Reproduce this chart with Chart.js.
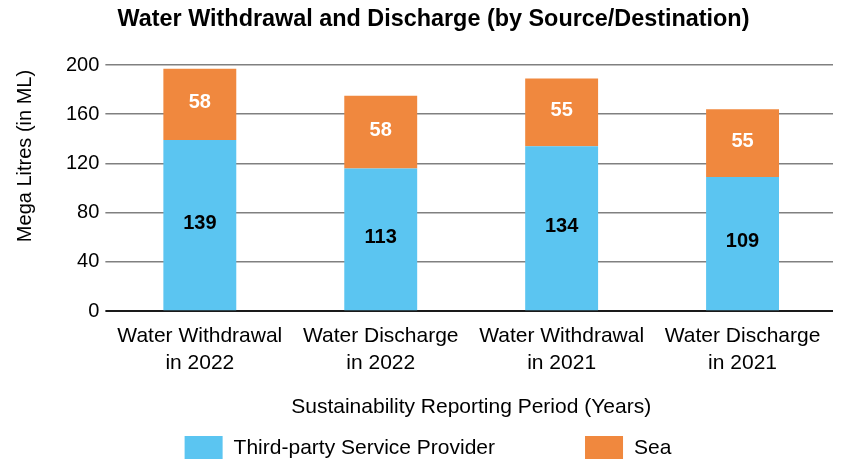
<!DOCTYPE html>
<html>
<head>
<meta charset="utf-8">
<script src="https://cdn.jsdelivr.net/npm/chart.js@4/dist/chart.umd.min.js"></script>
<style>
  html, body { margin: 0; padding: 0; background: #ffffff; }
  #wrap { width: 845px; height: 461px; position: relative; }
</style>
</head>
<body>
<div id="wrap"><canvas id="c" width="845" height="461"></canvas></div>
<script>
const categories = [
  ["Water Withdrawal", "in 2022"],
  ["Water Discharge", "in 2022"],
  ["Water Withdrawal", "in 2021"],
  ["Water Discharge", "in 2021"]
];
const thirdPartyValues = [139, 116, 134, 109];
const seaValues = [58, 59, 55, 55];
const thirdPartyLabels = ["139", "113", "134", "109"];
const seaLabels = ["58", "58", "55", "55"];
const yTicks = [0, 40, 80, 120, 160, 200];
const seriesNames = ["Third-party Service Provider", "Sea"];
const seriesColors = ["#5BC5F1", "#F0883E"];
const chartTitle = "Water Withdrawal and Discharge (by Source/Destination)";
const yTitle = "Mega Litres (in ML)";
const xTitle = "Sustainability Reporting Period (Years)";

const FONT = "'Liberation Sans', Arial, Helvetica, sans-serif";

// value labels centred in each stacked segment
const segmentLabels = {
  id: 'segmentLabels',
  afterDatasetsDraw(chart) {
    const ctx = chart.ctx;
    const sets = [
      { idx: 0, labels: thirdPartyLabels, color: '#000000' },
      { idx: 1, labels: seaLabels, color: '#ffffff' }
    ];
    ctx.save();
    ctx.font = "bold 20px " + FONT;
    ctx.textAlign = 'center';
    ctx.textBaseline = 'middle';
    sets.forEach(s => {
      const meta = chart.getDatasetMeta(s.idx);
      meta.data.forEach((bar, i) => {
        const cy = (bar.y + bar.base) / 2;
        ctx.fillStyle = s.color;
        ctx.fillText(s.labels[i], bar.x, cy - 2);
      });
    });
    ctx.restore();
  }
};

// chart title, y-axis title and legend row
const extras = {
  id: 'extras',
  afterDraw(chart) {
    const ctx = chart.ctx;
    // title
    ctx.save();
    ctx.font = "bold 23.4px " + FONT;
    ctx.fillStyle = '#000000';
    ctx.textAlign = 'center';
    ctx.textBaseline = 'middle';
    ctx.fillText(chartTitle, 433.5, 20);
    ctx.restore();

    // y title
    ctx.save();
    ctx.translate(25, 156);
    ctx.rotate(-Math.PI / 2);
    ctx.font = "20px " + FONT;
    ctx.fillStyle = '#000000';
    ctx.textAlign = 'center';
    ctx.textBaseline = 'middle';
    ctx.fillText(yTitle, 0, 0);
    ctx.restore();

    // legend
    ctx.save();
    ctx.font = "21px " + FONT;
    ctx.textBaseline = 'middle';
    ctx.textAlign = 'left';
    const boxW = 38, boxH = 23, textGap = 11, itemGap = 90;
    const widths = seriesNames.map(n => ctx.measureText(n).width);
    const total = widths.reduce((a, w) => a + boxW + textGap + w, 0) + itemGap * (seriesNames.length - 1);
    let x = 428 - total / 2;
    const cy = 447.5;
    seriesNames.forEach((n, i) => {
      ctx.fillStyle = seriesColors[i];
      ctx.fillRect(x, cy - boxH / 2, boxW, boxH);
      ctx.fillStyle = '#000000';
      ctx.fillText(n, x + boxW + textGap, cy + 1);
      x += boxW + textGap + widths[i] + itemGap;
    });
    ctx.restore();
  }
};

new Chart(document.getElementById('c'), {
  type: 'bar',
  data: {
    labels: categories,
    datasets: [
      {
        label: seriesNames[0],
        data: thirdPartyValues,
        backgroundColor: seriesColors[0],
        borderWidth: 0,
        barPercentage: 0.403,
        categoryPercentage: 1.0
      },
      {
        label: seriesNames[1],
        data: seaValues,
        backgroundColor: seriesColors[1],
        borderWidth: 0,
        barPercentage: 0.403,
        categoryPercentage: 1.0
      }
    ]
  },
  options: {
    responsive: false,
    animation: false,
    devicePixelRatio: 1,
    layout: { padding: { left: 60, right: 12, top: 65, bottom: 41.5 } },
    plugins: {
      title: { display: false },
      legend: { display: false },
      tooltip: { enabled: false }
    },
    scales: {
      x: {
        stacked: true,
        grid: { display: false, drawTicks: false },
        border: { display: false },
        ticks: {
          color: '#000000',
          font: { family: FONT, size: 21, lineHeight: 1.3 },
          maxRotation: 0,
          autoSkip: false,
          padding: 11
        },
        title: {
          display: true,
          text: xTitle,
          color: '#000000',
          font: { family: FONT, size: 21, lineHeight: 1.2 },
          padding: { top: 6.5, bottom: 0 }
        }
      },
      y: {
        stacked: true,
        min: 0,
        max: 200,
        afterBuildTicks(axis) { axis.ticks = yTicks.map(v => ({ value: v })); },
        grid: {
          color: ctx => ctx.tick && ctx.tick.value === 0 ? '#1a1a1a' : '#808080',
          lineWidth: ctx => ctx.tick && ctx.tick.value === 0 ? 2 : 1.5,
          drawTicks: true,
          tickLength: 4
        },
        border: { display: false },
        ticks: {
          color: '#000000',
          font: { family: FONT, size: 20 },
          padding: 6
        },
        title: { display: false }
      }
    }
  },
  plugins: [segmentLabels, extras]
});
</script>
</body>
</html>
